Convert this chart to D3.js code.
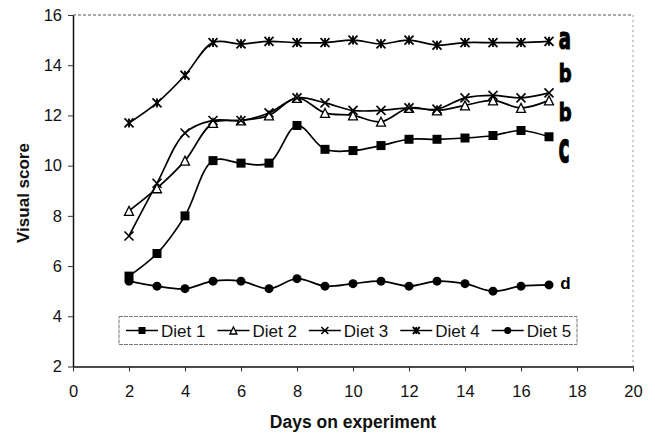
<!DOCTYPE html>
<html>
<head>
<meta charset="utf-8">
<script src="https://cdn.jsdelivr.net/npm/d3@7/dist/d3.min.js"></script>
<style>
  html, body { margin: 0; padding: 0; background: #fff; }
  svg { display: block; font-family: "Liberation Sans", Arial, sans-serif; }
</style>
</head>
<body>
<div id="chart"></div>
<script>
// data
var days = [2, 3, 4, 5, 6, 7, 8, 9, 10, 11, 12, 13, 14, 15, 16, 17];
var diet1 = [5.6, 6.5, 8.0, 10.2, 10.1, 10.1, 11.6, 10.65, 10.6, 10.8, 11.05, 11.05, 11.1, 11.2, 11.4, 11.15];
var diet2 = [8.2, 9.1, 10.2, 11.7, 11.8, 12.0, 12.7, 12.1, 12.0, 11.75, 12.3, 12.2, 12.4, 12.6, 12.3, 12.6];
var diet3 = [7.2, 9.3, 11.3, 11.8, 11.8, 12.1, 12.7, 12.5, 12.2, 12.2, 12.3, 12.25, 12.7, 12.8, 12.7, 12.9];
var diet4 = [11.7, 12.5, 13.6, 14.9, 14.85, 14.95, 14.9, 14.9, 15.0, 14.85, 15.0, 14.8, 14.9, 14.9, 14.9, 14.95];
var diet5 = [5.4, 5.2, 5.1, 5.4, 5.4, 5.1, 5.5, 5.2, 5.3, 5.4, 5.2, 5.4, 5.3, 5.0, 5.2, 5.25];
var seriesNames = ["Diet 1", "Diet 2", "Diet 3", "Diet 4", "Diet 5"];
var markerTypes = ["square", "triangle", "cross", "star", "circle"];
var xTicks = [0, 2, 4, 6, 8, 10, 12, 14, 16, 18, 20];
var yTicks = [2, 4, 6, 8, 10, 12, 14, 16];
// significance letters next to the last points
var sigLetters = ["a", "b", "b", "c", "d"];
var sigValues = [14.64, 13.32, 11.77, 10.13, 5.08];

(function(d3){
  var width = 655, height = 437;
  var plotL = 73, plotR = 633, plotT = 15, plotB = 366.5;

  var svg = d3.select("#chart").append("svg")
      .attr("width", width)
      .attr("height", height);

  var x = d3.scaleLinear().domain([0, 20]).range([plotL, plotR]);
  var y = d3.scaleLinear().domain([2, 16]).range([plotB, plotT]);

  // frame: top and right dotted like the scan
  svg.append("line")
      .attr("x1", plotL).attr("x2", plotR).attr("y1", plotT).attr("y2", plotT)
      .attr("stroke", "#555").attr("stroke-width", 1).attr("stroke-dasharray", "3,2");
  svg.append("line")
      .attr("x1", plotR).attr("x2", plotR).attr("y1", plotT).attr("y2", plotB)
      .attr("stroke", "#999").attr("stroke-width", 1).attr("stroke-dasharray", "2,3");

  var xAxis = svg.append("g")
      .attr("transform", "translate(0," + plotB + ")")
      .call(d3.axisBottom(x).tickValues(xTicks).tickSizeInner(5).tickSizeOuter(0).tickPadding(14));
  var yAxis = svg.append("g")
      .attr("transform", "translate(" + plotL + ",0)")
      .call(d3.axisLeft(y).tickValues(yTicks).tickSizeInner(5).tickSizeOuter(0).tickPadding(6));

  [xAxis, yAxis].forEach(function(g){
    g.select(".domain").attr("stroke", "#111").attr("stroke-width", 1.5);
    g.selectAll(".tick line").attr("stroke", "#333");
    g.selectAll(".tick text")
      .attr("fill", "#111")
      .style("font-family", "'Liberation Sans', Arial, sans-serif")
      .style("font-size", "16.5px");
  });

  // axis titles
  svg.append("text")
      .attr("x", (plotL + plotR) / 2).attr("y", 427.5)
      .attr("text-anchor", "middle")
      .style("font-weight", "bold").style("font-size", "17.5px")
      .attr("fill", "#111")
      .text("Days on experiment");
  svg.append("text")
      .attr("transform", "translate(29,193) rotate(-90)")
      .attr("text-anchor", "middle")
      .style("font-weight", "bold").style("font-size", "17px")
      .attr("fill", "#111")
      .text("Visual score");

  // marker drawing
  function drawMarker(g, type, s) {
    var h = s / 2;
    if (type === "square") {
      g.append("rect").attr("x", -h).attr("y", -h).attr("width", s).attr("height", s).attr("fill", "#000");
    } else if (type === "triangle") {
      g.append("path").attr("d", "M0," + (-h) + "L" + h + "," + h + "L" + (-h) + "," + h + "Z")
        .attr("fill", "#fff").attr("stroke", "#000").attr("stroke-width", 1.3);
    } else if (type === "cross") {
      g.append("path").attr("d", "M" + (-h) + "," + (-h) + "L" + h + "," + h + "M" + h + "," + (-h) + "L" + (-h) + "," + h)
        .attr("stroke", "#000").attr("stroke-width", 1.6);
    } else if (type === "star") {
      g.append("path").attr("d", "M" + (-h) + "," + (-h) + "L" + h + "," + h + "M" + h + "," + (-h) + "L" + (-h) + "," + h +
          "M0," + (-h) + "L0," + h)
        .attr("stroke", "#000").attr("stroke-width", 1.8);
    } else {
      g.append("circle").attr("r", h).attr("fill", "#000");
    }
  }

  var allSeries = [diet1, diet2, diet3, diet4, diet5];
  var line = d3.line()
      .x(function(d, i) { return x(days[i]); })
      .y(function(d) { return y(d); })
      .curve(d3.curveCatmullRom.alpha(0.5));

  var plot = svg.append("g").attr("class", "g-plot");
  allSeries.forEach(function(vals){
    plot.append("path")
        .attr("d", line(vals))
        .attr("fill", "none")
        .attr("stroke", "#000")
        .attr("stroke-width", 1.7);
  });
  allSeries.forEach(function(vals, k){
    vals.forEach(function(v, i){
      var g = plot.append("g").attr("transform", "translate(" + x(days[i]) + "," + y(v) + ")");
      drawMarker(g, markerTypes[k], 9);
    });
  });

  // letters
  sigLetters.forEach(function(t, i){
    var isD = t === "d";
    var sy = t === "a" ? 1.5 : (t === "c" ? 2.0 : 1.2);
    svg.append("text")
        .attr("transform", "translate(" + x(isD ? 17.4 : 17.35) + "," + y(sigValues[i]) + ") scale(1," + (isD ? 1 : sy) + ")")
        .style("font-family", isD ? "'Liberation Sans', Arial, sans-serif" : "'Liberation Sans Narrow', 'DejaVu Sans Condensed', sans-serif")
        .style("font-weight", "bold")
        .style("font-size", isD ? "17px" : "20px")
        .attr("fill", "#000")
        .attr("stroke", isD ? "none" : "#000")
        .attr("stroke-width", 0.8)
        .text(t);
  });

  // legend
  var legend = svg.append("g").attr("class", "g-legend");
  legend.append("rect")
      .attr("x", 119).attr("y", 316.5).attr("width", 458).attr("height", 28)
      .attr("fill", "#fff").attr("stroke", "#777").attr("stroke-width", 1).attr("stroke-dasharray", "4,1");
  var lx = 126;
  seriesNames.forEach(function(name, k){
    var item = legend.append("g").attr("transform", "translate(" + lx + ",330.5)");
    item.append("line").attr("x1", 0).attr("x2", 32).attr("y1", 0).attr("y2", 0)
        .attr("stroke", "#000").attr("stroke-width", 1.5);
    drawMarker(item.append("g").attr("transform", "translate(16,0)"), markerTypes[k], 7);
    var txt = item.append("text")
        .attr("x", 35).attr("y", 6)
        .style("font-size", "17px")
        .attr("fill", "#111")
        .text(name);
    lx += 35 + txt.node().getComputedTextLength() + 12;
  });
})(d3);
</script>
</body>
</html>
